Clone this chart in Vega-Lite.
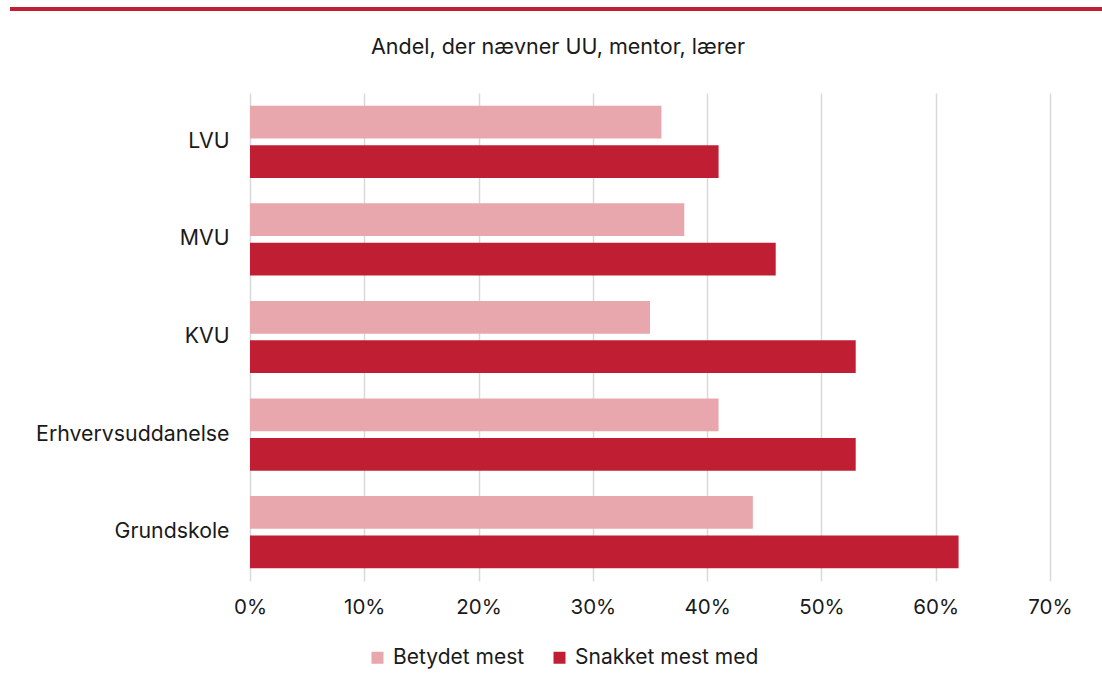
{
  "$schema": "https://vega.github.io/schema/vega-lite/v6.json",
  "padding": {"top": 7, "left": 5, "right": 0, "bottom": 5},
  "background": "white",
  "spacing": 25,
  "config": {
    "font": "Inter",
    "view": {"stroke": null}
  },
  "vconcat": [
    {
      "width": 800,
      "height": 4,
      "data": {"values": [{"a": 0, "b": 1}]},
      "mark": {"type": "rect", "color": "#c01f33"},
      "encoding": {
        "x": {"field": "a", "type": "quantitative", "scale": {"domain": [0, 1], "range": [-240, 852], "nice": false, "zero": false}, "axis": null},
        "x2": {"field": "b"}
      }
    },
    {
      "width": 800,
      "height": 488,
      "title": {
        "text": "Andel, der nævner UU, mentor, lærer",
        "fontSize": 21.5,
        "fontWeight": "normal",
        "color": "#1a1a1a",
        "dx": -92,
        "offset": 35
      },
      "data": {
        "values": [
          {"kat": "LVU", "serie": "Betydet mest", "v": 0.36},
          {"kat": "LVU", "serie": "Snakket mest med", "v": 0.41},
          {"kat": "MVU", "serie": "Betydet mest", "v": 0.38},
          {"kat": "MVU", "serie": "Snakket mest med", "v": 0.46},
          {"kat": "KVU", "serie": "Betydet mest", "v": 0.35},
          {"kat": "KVU", "serie": "Snakket mest med", "v": 0.53},
          {"kat": "Erhvervsuddanelse", "serie": "Betydet mest", "v": 0.41},
          {"kat": "Erhvervsuddanelse", "serie": "Snakket mest med", "v": 0.53},
          {"kat": "Grundskole", "serie": "Betydet mest", "v": 0.44},
          {"kat": "Grundskole", "serie": "Snakket mest med", "v": 0.62}
        ]
      },
      "mark": {"type": "bar"},
      "encoding": {
        "y": {
          "field": "kat",
          "type": "nominal",
          "sort": ["LVU", "MVU", "KVU", "Erhvervsuddanelse", "Grundskole"],
          "scale": {"paddingInner": 0.26, "paddingOuter": 0.13},
          "axis": {
            "title": null,
            "domain": false,
            "ticks": false,
            "labelFontSize": 21.3,
            "labelColor": "#1a1a1a",
            "labelPadding": 21,
            "labelLimit": 400,
            "minExtent": 245,
            "maxExtent": 245
          }
        },
        "yOffset": {
          "field": "serie",
          "type": "nominal",
          "sort": ["Betydet mest", "Snakket mest med"],
          "scale": {"paddingInner": 0.17}
        },
        "x": {
          "field": "v",
          "type": "quantitative",
          "scale": {"domain": [0, 0.7]},
          "axis": {
            "title": null,
            "format": ".0%",
            "values": [0, 0.1, 0.2, 0.3, 0.4, 0.5, 0.6, 0.7],
            "domain": false,
            "ticks": false,
            "grid": true,
            "gridColor": "#d9d9d9",
            "gridWidth": 1.5,
            "labelFlush": false,
            "labelFontSize": 20.5,
            "labelColor": "#1a1a1a",
            "labelPadding": 16
          }
        },
        "color": {
          "field": "serie",
          "type": "nominal",
          "sort": ["Betydet mest", "Snakket mest med"],
          "scale": {"domain": ["Betydet mest", "Snakket mest med"], "range": ["#e8a7ac", "#c01f33"]},
          "legend": {
            "title": null,
            "orient": "none",
            "legendX": 117,
            "legendY": 640,
            "direction": "horizontal",
            "symbolType": "square",
            "symbolSize": 144,
            "symbolStrokeWidth": 0,
            "labelFontSize": 21,
            "labelColor": "#1a1a1a",
            "labelOffset": 5,
            "labelLimit": 400,
            "columnPadding": 24
          }
        }
      }
    }
  ]
}
